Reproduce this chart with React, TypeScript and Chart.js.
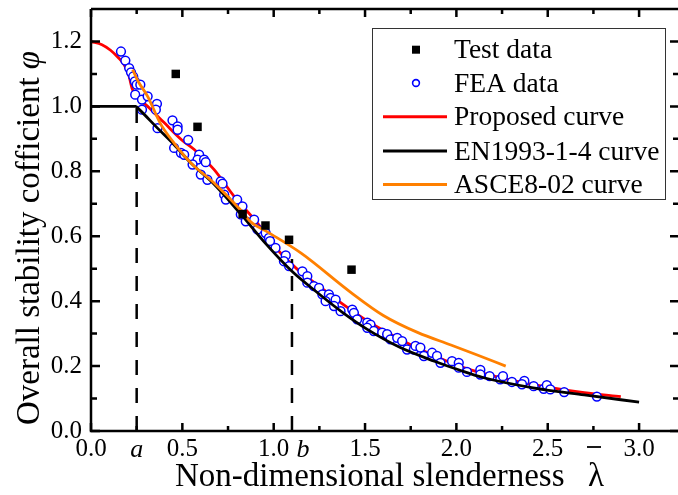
import React, { useEffect, useRef } from "react";
import { Chart, registerables } from "chart.js";

Chart.register(...registerables);

// ---------- data ----------
const testX = [0.464, 0.583, 0.83, 0.955, 1.084, 1.426];
const testY = [1.1, 0.937, 0.668, 0.633, 0.589, 0.497];

const feaX = [
  0.164, 0.188, 0.209, 0.219, 0.231, 0.24, 0.25, 0.27, 0.242, 0.279, 0.31, 0.279, 0.361, 0.355, 0.364,
  0.446, 0.474, 0.474, 0.532, 0.455, 0.492, 0.51, 0.592, 0.583, 0.619, 0.628, 0.556, 0.601, 0.637, 0.71,
  0.72, 0.729, 0.738, 0.8, 0.829, 0.82, 0.847, 0.893, 0.911, 0.956, 0.974, 0.98, 1.01, 1.066, 1.056,
  1.084, 1.157, 1.184, 1.184, 1.22, 1.248, 1.266, 1.302, 1.311, 1.339, 1.284, 1.33, 1.366, 1.43, 1.439,
  1.457, 1.512, 1.53, 1.512, 1.548, 1.594, 1.621, 1.639, 1.676, 1.703, 1.73, 1.767, 1.776, 1.803, 1.822,
  1.867, 1.894, 1.913, 1.976, 2.013, 2.013, 2.058, 2.131, 2.131, 2.182, 2.24, 2.255, 2.304, 2.372, 2.359,
  2.423, 2.478, 2.495, 2.514, 2.59, 2.769,
];
const feaY = [
  1.169, 1.141, 1.118, 1.105, 1.092, 1.077, 1.067, 1.067, 1.036, 1.021, 1.031, 0.99, 1.008, 0.99, 0.933,
  0.957, 0.938, 0.928, 0.897, 0.872, 0.857, 0.851, 0.851, 0.836, 0.836, 0.828, 0.821, 0.79, 0.774, 0.769,
  0.762, 0.728, 0.713, 0.713, 0.692, 0.667, 0.646, 0.651, 0.621, 0.61, 0.595, 0.585, 0.564, 0.541, 0.523,
  0.508, 0.492, 0.477, 0.457, 0.446, 0.441, 0.421, 0.421, 0.41, 0.405, 0.4, 0.385, 0.369, 0.374, 0.364,
  0.344, 0.334, 0.328, 0.318, 0.308, 0.303, 0.298, 0.282, 0.287, 0.277, 0.251, 0.251, 0.262, 0.257, 0.231,
  0.241, 0.231, 0.21, 0.215, 0.21, 0.195, 0.182, 0.188, 0.174, 0.169, 0.159, 0.169, 0.151, 0.154, 0.144,
  0.138, 0.13, 0.141, 0.128, 0.12, 0.106,
];

const proposedX = [0, 0.06, 0.107, 0.15, 0.18, 0.205, 0.225, 0.25, 0.31, 0.4, 0.5, 0.565, 0.674, 0.783, 0.91, 1.02, 1.13, 1.24, 1.38, 1.51, 1.69, 1.88, 2.04, 2.25, 2.5, 2.7, 2.9];
const proposedY = [1.2, 1.19, 1.173, 1.15, 1.13, 1.1, 1.055, 1.03, 1.0, 0.95, 0.895, 0.867, 0.805, 0.723, 0.641, 0.559, 0.498, 0.45, 0.39, 0.34, 0.283, 0.232, 0.195, 0.163, 0.135, 0.118, 0.106];

const enX = [0, 0.245, 0.265, 0.364, 0.455, 0.546, 0.674, 0.82, 0.96, 1.1, 1.24, 1.38, 1.51, 1.69, 1.88, 2.02, 2.15, 2.42, 2.7, 3.0];
const enY = [1.0, 1.0, 0.99, 0.933, 0.882, 0.826, 0.76, 0.668, 0.575, 0.492, 0.426, 0.364, 0.314, 0.258, 0.215, 0.187, 0.164, 0.133, 0.111, 0.089];

const asceX = [0.228, 0.26, 0.31, 0.38, 0.455, 0.546, 0.674, 0.82, 0.873, 0.97, 1.15, 1.42, 1.6, 1.79, 1.97, 2.1, 2.27];
const asceY = [1.113, 1.075, 1.031, 0.947, 0.887, 0.826, 0.764, 0.68, 0.645, 0.612, 0.548, 0.428, 0.356, 0.303, 0.265, 0.237, 0.2];

const markA = 0.25;
const markATop = 1.0;
const markB = 1.1;
const markBTop = 0.53;

const xMajor = [0, 0.5, 1.0, 1.5, 2.0, 2.5, 3.0];
const xMinor = [0.25, 0.75, 1.25, 1.75, 2.25, 2.75];
const yMajor = [0, 0.2, 0.4, 0.6, 0.8, 1.0, 1.2];
const yMinor = [0.1, 0.3, 0.5, 0.7, 0.9, 1.1];

const legendLabels = ["Test data", "FEA data", "Proposed curve", "EN1993-1-4 curve", "ASCE8-02 curve"];
const xTitle = "Non-dimensional slenderness";
const xTitleSymbol = "λ";
const yTitle = "Overall stability cofficient ";
const yTitleSymbol = "φ";

const SERIF = "'Liberation Serif', 'Times New Roman', serif";
const BLUE = "#0000ff";
const RED = "#ff0000";
const ORANGE = "#ff8000";

const pts = (xs: number[], ys: number[]) => xs.map((v, i) => ({ x: v, y: ys[i] }));

const decor = {
  id: "decor",
  afterDatasetsDraw(chart: any) {
    const { ctx, chartArea: ca, scales } = chart;
    const x = scales.x;
    const y = scales.y;
    ctx.save();
    ctx.strokeStyle = "#000";
    ctx.lineWidth = 2.5;
    ctx.lineCap = "butt";
    // frame
    ctx.beginPath();
    ctx.moveTo(ca.left, ca.top);
    ctx.lineTo(ca.left, ca.bottom);
    ctx.lineTo(ca.right + 2, ca.bottom);
    ctx.moveTo(ca.left, ca.top);
    ctx.lineTo(ca.right + 2, ca.top);
    ctx.stroke();
    // ticks (inward)
    ctx.beginPath();
    const tx = (v: number, len: number) => {
      const p = x.getPixelForValue(v);
      ctx.moveTo(p, ca.bottom);
      ctx.lineTo(p, ca.bottom - len);
      ctx.moveTo(p, ca.top);
      ctx.lineTo(p, ca.top + len);
    };
    const ty = (v: number, len: number) => {
      const p = y.getPixelForValue(v);
      ctx.moveTo(ca.left, p);
      ctx.lineTo(ca.left + len, p);
      ctx.moveTo(ca.right + 1, p);
      ctx.lineTo(ca.right + 1 - len, p);
    };
    xMajor.forEach((v) => tx(v, 8));
    xMinor.forEach((v) => tx(v, 5));
    yMajor.forEach((v) => ty(v, 9));
    yMinor.forEach((v) => ty(v, 6));
    ctx.stroke();

    // a / b labels
    ctx.fillStyle = "#000";
    ctx.font = `italic 26px ${SERIF}`;
    ctx.textAlign = "center";
    ctx.textBaseline = "alphabetic";
    ctx.fillText("a", x.getPixelForValue(markA), 457);
    ctx.fillText("b", x.getPixelForValue(markB) + 11, 457);

    // x title
    ctx.font = `33px ${SERIF}`;
    ctx.textAlign = "left";
    ctx.fillText(xTitle, 175, 486);
    ctx.fillText(xTitleSymbol, 588, 486);
    ctx.lineWidth = 1.8;
    ctx.beginPath();
    ctx.moveTo(587, 447);
    ctx.lineTo(601, 447);
    ctx.stroke();

    // y title
    ctx.save();
    ctx.translate(38.5, 238);
    ctx.rotate(-Math.PI / 2);
    ctx.font = `33px ${SERIF}`;
    const w1 = ctx.measureText(yTitle).width;
    ctx.font = `italic 33px ${SERIF}`;
    const w2 = ctx.measureText(yTitleSymbol).width;
    const start = -(w1 + w2) / 2;
    ctx.font = `33px ${SERIF}`;
    ctx.fillText(yTitle, start, 0);
    ctx.font = `italic 33px ${SERIF}`;
    ctx.fillText(yTitleSymbol, start + w1, 0);
    ctx.restore();

    // legend
    const L = 372, T = 28, R = 665, B = 199;
    ctx.fillStyle = "#fff";
    ctx.fillRect(L, T, R - L, B - T);
    ctx.strokeStyle = "#333";
    ctx.lineWidth = 1;
    ctx.strokeRect(L + 0.5, T + 0.5, R - L, B - T);
    const baselines = [58.3, 91.7, 125, 159.5, 193.3];
    const centers = [49.7, 83, 116.7, 151, 184.5];
    // square
    ctx.fillStyle = "#000";
    ctx.fillRect(412, centers[0] - 4, 8, 8);
    // circle
    ctx.strokeStyle = BLUE;
    ctx.lineWidth = 1.6;
    ctx.beginPath();
    ctx.arc(416, centers[1], 3.4, 0, Math.PI * 2);
    ctx.stroke();
    const lineCols = [RED, "#000", ORANGE];
    lineCols.forEach((c, i) => {
      ctx.strokeStyle = c;
      ctx.lineWidth = 3;
      ctx.beginPath();
      ctx.moveTo(383, centers[i + 2]);
      ctx.lineTo(447, centers[i + 2]);
      ctx.stroke();
    });
    ctx.fillStyle = "#000";
    ctx.font = `27.5px ${SERIF}`;
    ctx.textAlign = "left";
    legendLabels.forEach((t, i) => ctx.fillText(t, 454, baselines[i]));
    ctx.restore();
  },
};

export default function App() {
  const ref = useRef<HTMLCanvasElement | null>(null);
  useEffect(() => {
    if (!ref.current) return;
    const chart = new Chart(ref.current, {
      type: "scatter",
      data: {
        datasets: [
          {
            label: "Test data",
            data: pts(testX, testY),
            pointStyle: "rect",
            pointRadius: 6,
            backgroundColor: "#000",
            borderColor: "#000",
            borderWidth: 0,
            order: 1,
          },
          {
            label: "ASCE8-02 curve",
            data: pts(asceX, asceY),
            showLine: true,
            pointRadius: 0,
            borderColor: ORANGE,
            borderWidth: 2.8,
            cubicInterpolationMode: "monotone",
            order: 2,
          },
          {
            label: "EN1993-1-4 curve",
            data: pts(enX, enY),
            showLine: true,
            pointRadius: 0,
            borderColor: "#000",
            borderWidth: 2.8,
            cubicInterpolationMode: "monotone",
            order: 3,
          },
          {
            label: "a",
            data: [{ x: markA, y: 0 }, { x: markA, y: markATop }],
            showLine: true,
            pointRadius: 0,
            borderColor: "#000",
            borderWidth: 2.5,
            borderDash: [15, 13],
            order: 3,
          },
          {
            label: "b",
            data: [{ x: markB, y: 0 }, { x: markB, y: markBTop }],
            showLine: true,
            pointRadius: 0,
            borderColor: "#000",
            borderWidth: 2.5,
            borderDash: [15, 13],
            order: 3,
          },
          {
            label: "FEA data",
            data: pts(feaX, feaY),
            pointStyle: "circle",
            pointRadius: 4.4,
            backgroundColor: "#fff",
            borderColor: BLUE,
            borderWidth: 1.5,
            order: 4,
          },
          {
            label: "Proposed curve",
            data: pts(proposedX, proposedY),
            showLine: true,
            pointRadius: 0,
            borderColor: RED,
            borderWidth: 2.8,
            cubicInterpolationMode: "monotone",
            order: 5,
          },
        ],
      },
      options: {
        animation: false,
        responsive: false,
        devicePixelRatio: 1,
        layout: { autoPadding: false, padding: { top: 9, right: 0, left: 0, bottom: 0 } },
        plugins: { legend: { display: false }, tooltip: { enabled: false } },
        scales: {
          x: {
            type: "linear",
            min: 0,
            max: 3.213,
            afterBuildTicks: (s: any) => {
              s.ticks = xMajor.map((v) => ({ value: v }));
            },
            afterFit: (s: any) => {
              s.height = 64;
              s.paddingLeft = 0;
              s.paddingRight = 0;
            },
            grid: { display: false, drawTicks: false },
            border: { display: false },
            ticks: {
              color: "#000",
              padding: 3,
              maxRotation: 0,
              autoSkip: false,
              font: { family: SERIF, size: 25 },
              callback: (v: any) => Number(v).toFixed(1),
            },
          },
          y: {
            type: "linear",
            min: 0,
            max: 1.3,
            afterBuildTicks: (s: any) => {
              s.ticks = yMajor.map((v) => ({ value: v }));
            },
            afterFit: (s: any) => {
              s.width = 91;
              s.paddingTop = 0;
              s.paddingBottom = 0;
            },
            grid: { display: false, drawTicks: false },
            border: { display: false },
            ticks: {
              color: "#000",
              padding: 9,
              autoSkip: false,
              font: { family: SERIF, size: 25 },
              callback: (v: any) => Number(v).toFixed(1),
            },
          },
        },
      },
      plugins: [decor],
    } as any);
    return () => chart.destroy();
  }, []);
  return (
    <div style={{ position: "fixed", left: 0, top: 0, width: 678, height: 495, background: "#fff" }}>
      <canvas ref={ref} width={678} height={495} style={{ display: "block" }} />
    </div>
  );
}
